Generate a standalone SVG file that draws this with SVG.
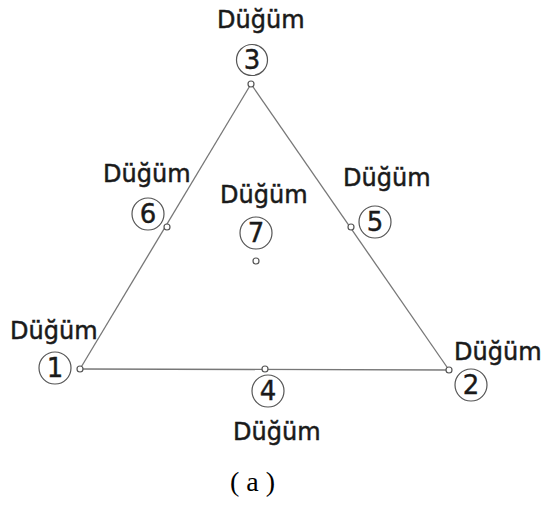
<svg xmlns="http://www.w3.org/2000/svg" width="542" height="508" viewBox="0 0 542 508">
<style>
.lbl{font-family:"DejaVu Sans","Liberation Sans",sans-serif;font-size:24px;fill:#1a1a1a;stroke:#1a1a1a;stroke-width:0.5}
.num{font-family:"DejaVu Sans","Liberation Sans",sans-serif;font-size:26px;fill:#1a1a1a;stroke:#1a1a1a;stroke-width:0.4;text-anchor:middle}
.ring{fill:#fff;stroke:#555;stroke-width:1.2}
.dot{fill:#fff;stroke:#555;stroke-width:1.2}
.edge{stroke:#777;stroke-width:1.3;fill:none}
.cap{font-family:"Liberation Serif","Times New Roman",serif;font-size:28px;fill:#000}
</style>
<rect width="542" height="508" fill="#fff"/>
<g id="connectors">
<line class="edge" x1="80" y1="369" x2="449" y2="370"/>
<line class="edge" x1="80" y1="369" x2="251" y2="84"/>
<line class="edge" x1="449" y1="370" x2="251" y2="84"/>
</g>
<g id="node1">
<text class="lbl" x="10" y="339">Düğüm</text>
<circle class="ring" cx="55" cy="368" r="16"/>
<text class="num" x="55" y="377">1</text>
<circle class="dot" cx="80" cy="369" r="3"/>
</g>
<g id="node2">
<text class="lbl" x="454" y="360">Düğüm</text>
<circle class="ring" cx="471" cy="385" r="16"/>
<text class="num" x="471" y="394">2</text>
<circle class="dot" cx="449" cy="370" r="3"/>
</g>
<g id="node3">
<text class="lbl" x="217" y="28">Düğüm</text>
<circle class="ring" cx="252" cy="60" r="15.5"/>
<text class="num" x="252" y="69">3</text>
<circle class="dot" cx="251" cy="84" r="3"/>
</g>
<g id="node4">
<circle class="ring" cx="268" cy="391" r="16"/>
<text class="num" x="268" y="400">4</text>
<text class="lbl" x="233" y="440">Düğüm</text>
<circle class="dot" cx="265" cy="369" r="3"/>
</g>
<g id="node5">
<text class="lbl" x="343" y="186">Düğüm</text>
<circle class="ring" cx="375" cy="222" r="16"/>
<text class="num" x="375" y="231">5</text>
<circle class="dot" cx="351" cy="227" r="3"/>
</g>
<g id="node6">
<text class="lbl" x="103" y="182">Düğüm</text>
<circle class="ring" cx="148" cy="214" r="16"/>
<text class="num" x="148" y="223">6</text>
<circle class="dot" cx="167" cy="227" r="3"/>
</g>
<g id="node7">
<text class="lbl" x="220" y="203">Düğüm</text>
<circle class="ring" cx="256" cy="233" r="16"/>
<text class="num" x="256" y="242">7</text>
<circle class="dot" cx="256" cy="261" r="3"/>
</g>
<text class="cap" x="230" y="491" xml:space="preserve">( a )</text>
</svg>
